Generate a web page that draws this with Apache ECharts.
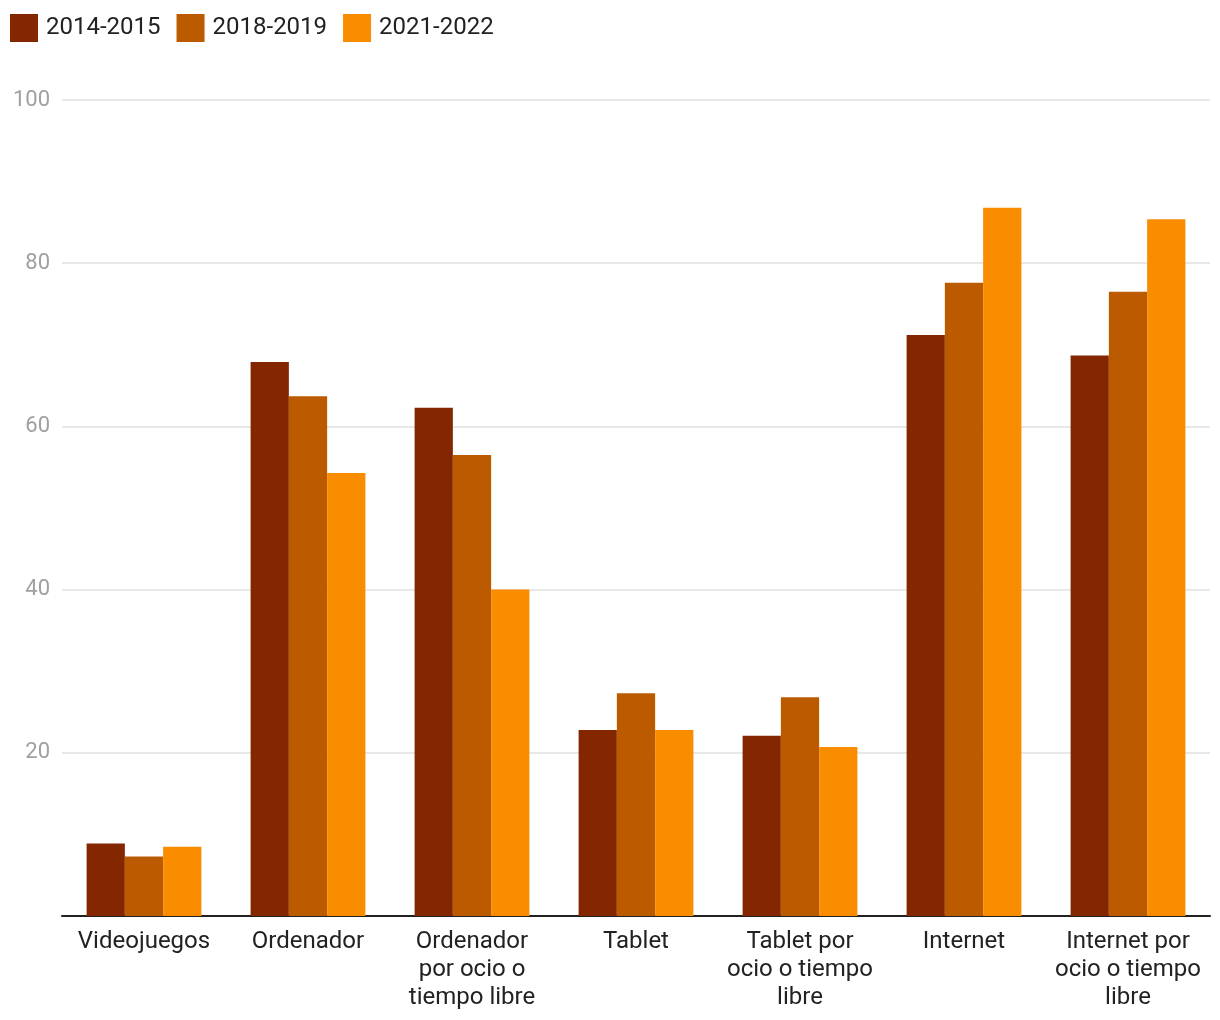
<!DOCTYPE html>
<html>
<head>
<meta charset="utf-8">
<script src="https://cdn.jsdelivr.net/npm/echarts@6/dist/echarts.min.js"></script>
<style>
html,body{margin:0;padding:0;background:#fff;}
#chart{width:1220px;height:1020px;}
</style>
</head>
<body>
<div id="chart"></div>
<script>
const categories = [
  "Videojuegos",
  "Ordenador",
  "Ordenador\npor ocio o\ntiempo libre",
  "Tablet",
  "Tablet por\nocio o tiempo\nlibre",
  "Internet",
  "Internet por\nocio o tiempo\nlibre"
];
const seriesNames = ["2014-2015", "2018-2019", "2021-2022"];
const values2014 = [8.9, 67.9, 62.3, 22.8, 22.1, 71.2, 68.7];
const values2018 = [7.3, 63.7, 56.5, 27.3, 26.8, 77.6, 76.5];
const values2021 = [8.5, 54.3, 40.0, 22.8, 20.7, 86.8, 85.4];
const colors = ["#842600", "#bc5a00", "#fa8c00"];

const chart = echarts.init(document.getElementById('chart'));
const font = "Roboto";
chart.setOption({
  animation: false,
  textStyle: { fontFamily: font },
  legend: {
    left: 5, top: 9,
    itemWidth: 28, itemHeight: 28, itemGap: 16,
    icon: 'rect',
    textStyle: { fontSize: 24, color: '#222', fontFamily: font, padding: [0, 0, 0, 3] },
    data: seriesNames
  },
  grid: { left: 62, right: 10, top: 100, bottom: 104, containLabel: false },
  xAxis: {
    type: 'category',
    data: categories,
    axisLine: { lineStyle: { color: '#222', width: 2 } },
    axisTick: { show: false },
    axisLabel: { fontSize: 24, color: '#222', lineHeight: 28, margin: 12, interval: 0, fontFamily: font }
  },
  yAxis: {
    type: 'value', min: 0, max: 100, interval: 20,
    axisLine: { show: false },
    axisTick: { show: false },
    splitLine: { lineStyle: { color: '#e8e8e8', width: 2 } },
    axisLabel: {
      fontSize: 22, color: '#a0a0a0', margin: 12, fontFamily: font,
      formatter: v => v === 0 ? '' : String(v)
    }
  },
  series: [
    { name: seriesNames[0], type: 'bar', data: values2014, itemStyle: { color: colors[0] }, barGap: '0%', barCategoryGap: '30%' },
    { name: seriesNames[1], type: 'bar', data: values2018, itemStyle: { color: colors[1] }, barGap: '0%', barCategoryGap: '30%' },
    { name: seriesNames[2], type: 'bar', data: values2021, itemStyle: { color: colors[2] }, barGap: '0%', barCategoryGap: '30%' }
  ]
});
</script>
</body>
</html>
